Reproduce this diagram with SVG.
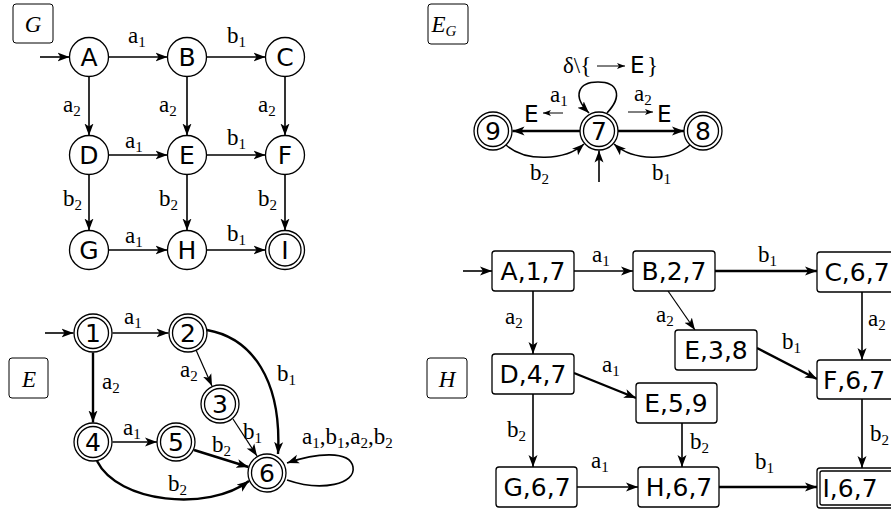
<svg xmlns="http://www.w3.org/2000/svg" width="891" height="511" viewBox="0 0 891 511">
<style>
.bg{fill:#fff}
.n{fill:#fff;stroke:#000;stroke-width:1.3}
.t{font-family:"DejaVu Sans",sans-serif;font-size:25px;text-anchor:middle;fill:#000}
.bt{font-family:"DejaVu Sans",sans-serif;font-size:25px;text-anchor:middle;fill:#000}
.sn{font-family:"DejaVu Sans",sans-serif;font-size:23px;fill:#000}
.l{font-family:"Liberation Serif",serif;font-size:23px;fill:#000}
.s{font-size:15px}
.ti{font-family:"Liberation Serif",serif;font-style:italic;font-size:23px;text-anchor:middle;fill:#000}
.e{fill:none;stroke:#000;stroke-width:1.6;marker-end:url(#ah)}
.k{fill:none;stroke:#000;stroke-width:2.4;marker-end:url(#ah)}
.th{fill:none;stroke:#000;stroke-width:1.2;marker-end:url(#ah)}
.sa{fill:none;stroke:#000;stroke-width:1;marker-end:url(#sh)}
.tb{fill:#fff;stroke:#000;stroke-width:1}
</style>
<defs>
<marker id="ah" markerUnits="userSpaceOnUse" markerWidth="13" markerHeight="10" refX="12" refY="5" orient="auto">
<path d="M0,0.5 L12,5 L0,9.5 L3,5 z" fill="#000"/>
</marker>
<marker id="sh" markerUnits="userSpaceOnUse" markerWidth="9" markerHeight="7" refX="8" refY="3.5" orient="auto">
<path d="M0,0.5 L8,3.5 L0,6.5 L2,3.5 z" fill="#000"/>
</marker>
</defs>
<rect class="bg" x="0" y="0" width="891" height="511"/>

<!-- Titles -->
<g id="title-G"><rect class="tb" x="13" y="4" width="40" height="39" rx="3"/><text class="ti" x="33" y="32">G</text></g>
<g id="title-EG"><rect class="tb" x="428" y="4" width="40" height="40" rx="3"/><text class="ti" x="444" y="32">E<tspan font-size="15" dy="4">G</tspan></text></g>
<g id="title-E"><rect class="tb" x="9" y="358" width="39" height="40" rx="3"/><text class="ti" x="29" y="387">E</text></g>
<g id="title-H"><rect class="tb" x="427" y="358" width="40" height="40" rx="3"/><text class="ti" x="447" y="387">H</text></g>

<!-- Connectors -->
<g id="connectors">
<!-- G -->
<path class="e" d="M40,57 L69.5,57"/>
<path class="e" d="M108.5,57 L167.5,57"/>
<path class="e" d="M206.5,57 L265.5,57"/>
<path class="e" d="M108.5,155 L167.5,155"/>
<path class="e" d="M206.5,155 L265.5,155"/>
<path class="e" d="M108.5,250 L167.5,250"/>
<path class="e" d="M206.5,250 L265.5,250"/>
<path class="e" d="M89,76.5 L89,135.5"/>
<path class="e" d="M187,76.5 L187,135.5"/>
<path class="e" d="M285,76.5 L285,135.5"/>
<path class="e" d="M89,174.5 L89,230.5"/>
<path class="e" d="M187,174.5 L187,230.5"/>
<path class="e" d="M285,174.5 L285,230.5"/>
<!-- E_G -->
<path class="k" d="M580,131 L512.5,131"/>
<path class="k" d="M618,131 L684,131"/>
<path class="e" d="M506,145 C525,162 565,161 584,144"/>
<path class="e" d="M690,145 C671,162 633,161 614,144"/>
<path class="e" d="M599,182 L599,150.5"/>
<path class="e" d="M607,113 C623,96 618,82 598,82 C578,82 572,96 589,113"/>
<path class="sa" d="M563,113 L543,113"/>
<path class="sa" d="M628,112 L653,112"/>
<path class="sa" d="M597,66 L625,66"/>
<!-- E -->
<path class="e" d="M45,333 L73.5,333"/>
<path class="e" d="M112.5,333 L168.5,333"/>
<path class="k" d="M93,352.5 L93,422.5"/>
<path class="th" d="M196,350 L212,386"/>
<path class="k" d="M207,330 C252,338 282,380 278,454"/>
<path class="th" d="M233,419 L257,456"/>
<path class="e" d="M112.5,442 L157,442"/>
<path class="k" d="M194,450 L248.5,467"/>
<path class="k" d="M97,461 C118,503 208,512 249,481"/>
<path class="e" d="M287,480 C322,492 356,484 353,467 C350,450 316,453 287,463"/>
<!-- H -->
<path class="e" d="M463,271 L492,271"/>
<path class="e" d="M574,271 L633,271"/>
<path class="k" d="M715,271 L817,271"/>
<path class="e" d="M533,291 L533,354"/>
<path class="th" d="M668,291 L695,330"/>
<path class="e" d="M862,292 L862,360"/>
<path class="k" d="M757,348 L817,379"/>
<path class="k" d="M574,373 L636,398"/>
<path class="e" d="M533,394 L533,467"/>
<path class="e" d="M682,423 L682,467"/>
<path class="e" d="M862,399 L862,468"/>
<path class="e" d="M577,487 L638,487"/>
<path class="k" d="M719,487 L817,487"/>
</g>

<!-- Edge labels -->
<g id="edge-labels">
<!-- G -->
<text class="l" x="128" y="43">a<tspan class="s" dy="4">1</tspan></text>
<text class="l" x="227" y="43">b<tspan class="s" dy="4">1</tspan></text>
<text class="l" x="63" y="112">a<tspan class="s" dy="4">2</tspan></text>
<text class="l" x="159" y="112">a<tspan class="s" dy="4">2</tspan></text>
<text class="l" x="258" y="112">a<tspan class="s" dy="4">2</tspan></text>
<text class="l" x="125" y="148">a<tspan class="s" dy="4">1</tspan></text>
<text class="l" x="227" y="145">b<tspan class="s" dy="4">1</tspan></text>
<text class="l" x="63" y="206">b<tspan class="s" dy="4">2</tspan></text>
<text class="l" x="159" y="206">b<tspan class="s" dy="4">2</tspan></text>
<text class="l" x="258" y="206">b<tspan class="s" dy="4">2</tspan></text>
<text class="l" x="125" y="243">a<tspan class="s" dy="4">1</tspan></text>
<text class="l" x="227" y="241">b<tspan class="s" dy="4">1</tspan></text>
<!-- E_G -->
<text class="l" x="563" y="73">δ\{</text>
<text class="sn" x="630" y="73">E</text>
<text class="l" x="647" y="73">}</text>
<text class="l" x="550" y="102">a<tspan class="s" dy="4">1</tspan></text>
<text class="sn" x="524" y="122">E</text>
<text class="l" x="634" y="101">a<tspan class="s" dy="4">2</tspan></text>
<text class="sn" x="657" y="122">E</text>
<text class="l" x="530" y="180">b<tspan class="s" dy="4">2</tspan></text>
<text class="l" x="652" y="180">b<tspan class="s" dy="4">1</tspan></text>
<!-- E -->
<text class="l" x="124" y="324">a<tspan class="s" dy="4">1</tspan></text>
<text class="l" x="102" y="389">a<tspan class="s" dy="4">2</tspan></text>
<text class="l" x="180" y="377">a<tspan class="s" dy="4">2</tspan></text>
<text class="l" x="277" y="381">b<tspan class="s" dy="4">1</tspan></text>
<text class="l" x="243" y="439">b<tspan class="s" dy="4">1</tspan></text>
<text class="l" x="123" y="435">a<tspan class="s" dy="4">1</tspan></text>
<text class="l" x="212" y="452">b<tspan class="s" dy="4">2</tspan></text>
<text class="l" x="168" y="491">b<tspan class="s" dy="4">2</tspan></text>
<text class="l" x="302" y="444">a<tspan class="s" dy="4">1</tspan><tspan dy="-4">,b</tspan><tspan class="s" dy="4">1</tspan><tspan dy="-4">,a</tspan><tspan class="s" dy="4">2</tspan><tspan dy="-4">,b</tspan><tspan class="s" dy="4">2</tspan></text>
<!-- H -->
<text class="l" x="592" y="262">a<tspan class="s" dy="4">1</tspan></text>
<text class="l" x="758" y="262">b<tspan class="s" dy="4">1</tspan></text>
<text class="l" x="505" y="324">a<tspan class="s" dy="4">2</tspan></text>
<text class="l" x="656" y="322">a<tspan class="s" dy="4">2</tspan></text>
<text class="l" x="868" y="326">a<tspan class="s" dy="4">2</tspan></text>
<text class="l" x="782" y="349">b<tspan class="s" dy="4">1</tspan></text>
<text class="l" x="602" y="372">a<tspan class="s" dy="4">1</tspan></text>
<text class="l" x="507" y="437">b<tspan class="s" dy="4">2</tspan></text>
<text class="l" x="690" y="449">b<tspan class="s" dy="4">2</tspan></text>
<text class="l" x="870" y="441">b<tspan class="s" dy="4">2</tspan></text>
<text class="l" x="591" y="468">a<tspan class="s" dy="4">1</tspan></text>
<text class="l" x="755" y="469">b<tspan class="s" dy="4">1</tspan></text>
</g>

<!-- G nodes -->
<g id="G-A"><circle class="n" cx="89" cy="57" r="19.5"/><text class="t" x="89" y="66">A</text></g>
<g id="G-B"><circle class="n" cx="187" cy="57" r="19.5"/><text class="t" x="187" y="66">B</text></g>
<g id="G-C"><circle class="n" cx="285" cy="57" r="19.5"/><text class="t" x="285" y="66">C</text></g>
<g id="G-D"><circle class="n" cx="89" cy="155" r="19.5"/><text class="t" x="89" y="164">D</text></g>
<g id="G-E"><circle class="n" cx="187" cy="155" r="19.5"/><text class="t" x="187" y="164">E</text></g>
<g id="G-F"><circle class="n" cx="285" cy="155" r="19.5"/><text class="t" x="285" y="164">F</text></g>
<g id="G-G"><circle class="n" cx="89" cy="250" r="19.5"/><text class="t" x="89" y="259">G</text></g>
<g id="G-H"><circle class="n" cx="187" cy="250" r="19.5"/><text class="t" x="187" y="259">H</text></g>
<g id="G-I"><circle class="n" cx="285" cy="250" r="19.5"/><circle class="n" cx="285" cy="250" r="16"/><text class="t" x="285" y="259">I</text></g>

<!-- E_G nodes -->
<g id="EG-9"><circle class="n" cx="493" cy="131" r="19"/><circle class="n" cx="493" cy="131" r="15.5"/><text class="t" x="493" y="140">9</text></g>
<g id="EG-7"><circle class="n" cx="599" cy="131" r="19"/><circle class="n" cx="599" cy="131" r="15.5"/><text class="t" x="599" y="140">7</text></g>
<g id="EG-8"><circle class="n" cx="703" cy="131" r="19"/><circle class="n" cx="703" cy="131" r="15.5"/><text class="t" x="703" y="140">8</text></g>

<!-- E nodes -->
<g id="E-1"><circle class="n" cx="93" cy="333" r="19"/><circle class="n" cx="93" cy="333" r="15.5"/><text class="t" x="93" y="342">1</text></g>
<g id="E-2"><circle class="n" cx="188" cy="333" r="19"/><circle class="n" cx="188" cy="333" r="15.5"/><text class="t" x="188" y="342">2</text></g>
<g id="E-3"><circle class="n" cx="220" cy="404" r="19"/><circle class="n" cx="220" cy="404" r="15.5"/><text class="t" x="220" y="413">3</text></g>
<g id="E-4"><circle class="n" cx="93" cy="442" r="19"/><circle class="n" cx="93" cy="442" r="15.5"/><text class="t" x="93" y="451">4</text></g>
<g id="E-5"><circle class="n" cx="176" cy="442" r="19"/><circle class="n" cx="176" cy="442" r="15.5"/><text class="t" x="176" y="451">5</text></g>
<g id="E-6"><circle class="n" cx="267" cy="473" r="19"/><circle class="n" cx="267" cy="473" r="15.5"/><text class="t" x="267" y="482">6</text></g>

<!-- H nodes -->
<g id="H-A17"><rect class="n" x="492" y="251" width="82" height="40" rx="3"/><text class="bt" x="533" y="280">A,1,7</text></g>
<g id="H-B27"><rect class="n" x="633" y="251" width="82" height="40" rx="3"/><text class="bt" x="674" y="280">B,2,7</text></g>
<g id="H-C67"><rect class="n" x="817" y="252" width="82" height="40" rx="3"/><text class="bt" x="857" y="281">C,6,7</text></g>
<g id="H-E38"><rect class="n" x="675" y="330" width="82" height="40" rx="3"/><text class="bt" x="716" y="359">E,3,8</text></g>
<g id="H-D47"><rect class="n" x="492" y="354" width="82" height="40" rx="3"/><text class="bt" x="533" y="383">D,4,7</text></g>
<g id="H-F67"><rect class="n" x="817" y="360" width="82" height="39" rx="3"/><text class="bt" x="854" y="389">F,6,7</text></g>
<g id="H-E59"><rect class="n" x="636" y="383" width="81" height="40" rx="3"/><text class="bt" x="676" y="412">E,5,9</text></g>
<g id="H-G67"><rect class="n" x="496" y="467" width="81" height="40" rx="3"/><text class="bt" x="537" y="496">G,6,7</text></g>
<g id="H-H67"><rect class="n" x="638" y="467" width="81" height="40" rx="3"/><text class="bt" x="679" y="496">H,6,7</text></g>
<g id="H-I67"><rect class="n" x="817" y="468" width="82" height="40" rx="3"/><rect class="n" x="820" y="471" width="76" height="34" rx="2"/><text class="bt" x="850" y="497">I,6,7</text></g>
</svg>
